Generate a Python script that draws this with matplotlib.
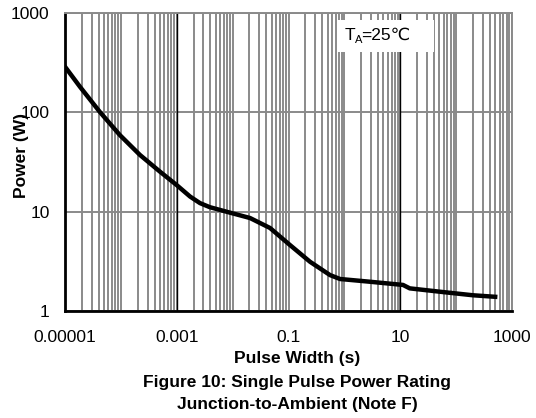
import numpy as np
import matplotlib
matplotlib.use("Agg")
import matplotlib.pyplot as plt
from matplotlib.ticker import FixedLocator, NullFormatter
from matplotlib.patches import Rectangle

# values
pulse_width = [1e-5, 1.85e-5, 4.2e-5, 9.6e-5, 2.2e-4, 5e-4, 1e-3, 1.73e-3, 2.6e-3, 3.9e-3, 9e-3,
               0.0205, 0.0467, 0.106, 0.243, 0.553, 0.836, 2.88, 11.2, 14.8, 59, 200, 500]
power = [288, 181, 101, 59, 37.2, 25.3, 18.5, 14.2, 12.2, 11.1, 9.77,
         8.63, 6.85, 4.62, 3.13, 2.30, 2.10, 1.97, 1.83, 1.69, 1.55, 1.44, 1.39]

x_decades = [1e-5, 1e-4, 1e-3, 1e-2, 0.1, 1, 10, 100, 1000]
x_labels = ["0.00001", "", "0.001", "", "0.1", "", "10", "", "1000"]
y_ticks = [1, 10, 100, 1000]
y_labels = ["1", "10", "100", "1000"]
dark_lines = [1e-3, 10]

W, H = 536, 418
fam = ["Liberation Sans", "DejaVu Sans"]
plt.rcParams["font.family"] = fam
grid_col = "#8a8a8a"

fig = plt.figure(figsize=(W / 100, H / 100), dpi=100)
ax = fig.add_axes([65 / W, 1 - 311 / H, (512 - 65) / W, (311 - 13) / H])
ax.set_xscale("log")
ax.set_yscale("log")
ax.set_xlim(1e-5, 1000)
ax.set_ylim(1, 1000)

minor = [m * d for d in x_decades[:-1] for m in range(2, 10)]
ax.xaxis.set_major_locator(FixedLocator(x_decades))
ax.xaxis.set_minor_locator(FixedLocator(minor))
ax.xaxis.set_minor_formatter(NullFormatter())
ax.set_xticklabels(x_labels)
ax.yaxis.set_major_locator(FixedLocator(y_ticks))
ax.yaxis.set_minor_locator(FixedLocator([]))
ax.set_yticklabels(y_labels)

ax.grid(True, which="major", axis="both", color=grid_col, lw=1.4)
ax.grid(True, which="minor", axis="x", color=grid_col, lw=1.4)
ax.set_axisbelow(True)
for xv in dark_lines:
    ax.axvline(xv, color="black", lw=1.0, zorder=1.5)

ax.tick_params(axis="both", which="both", length=0, labelsize=12.5)
ax.tick_params(axis="x", pad=14)
ax.tick_params(axis="y", pad=11)

for s in ["left", "bottom"]:
    ax.spines[s].set_color("black")
    ax.spines[s].set_linewidth(2)
for s in ["top", "right"]:
    ax.spines[s].set_color(grid_col)
    ax.spines[s].set_linewidth(1.4)

ax.plot(pulse_width, power, color="black", lw=3.2, solid_joinstyle="round", zorder=3)

# white label box with ambient temperature
fig.patches.append(Rectangle((337 / W, 1 - 52 / H), (434 - 337) / W, 32 / H,
                             transform=fig.transFigure, facecolor="white",
                             edgecolor="none", zorder=2))
fig.text(345 / W, 1 - 40 / H, "T", fontsize=12.5, va="baseline", zorder=3)
fig.text(355 / W, 1 - 43 / H, "A", fontsize=8, va="baseline", zorder=3)
fig.text(361 / W, 1 - 40 / H, "=25℃", fontsize=12.5, va="baseline", zorder=3, family=fam)

fig.text(22 / W, 1 - 155 / H, "Power (W)", rotation=90, fontsize=12.5,
         fontweight="bold", ha="center", va="center")
fig.text(297 / W, 1 - 358 / H, "Pulse Width (s)", fontsize=12.5,
         fontweight="bold", ha="center", va="center")
fig.text(297 / W, 1 - 382 / H, "Figure 10: Single Pulse Power Rating", fontsize=12.5,
         fontweight="bold", ha="center", va="center")
fig.text(297 / W, 1 - 405 / H, "Junction-to-Ambient (Note F)", fontsize=12.5,
         fontweight="bold", ha="center", va="center")

fig.savefig("out.png", dpi=100)
